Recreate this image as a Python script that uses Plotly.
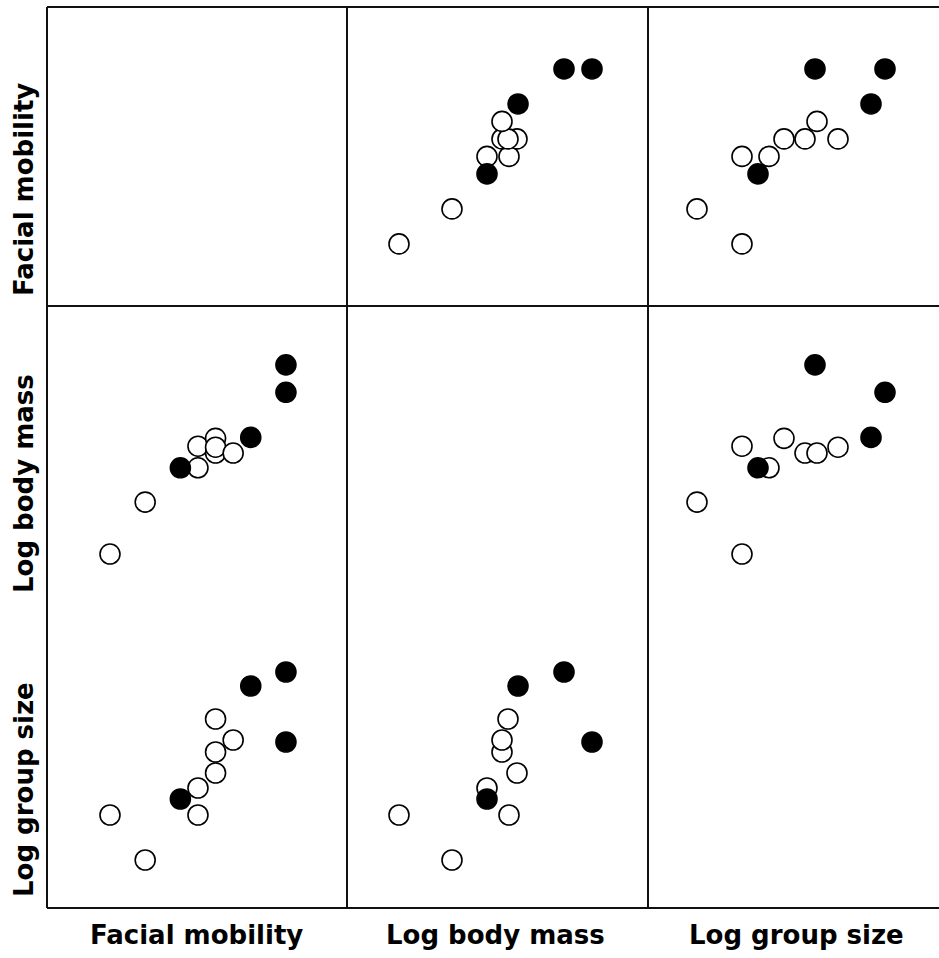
import plotly.graph_objects as go

# Data (one entry per species)
facial_mobility = [0, 2, 4, 5, 5, 6, 6, 6, 7, 8, 10, 10]
log_body_mass = [2.97, 3.50, 3.85, 3.85, 4.07, 4.15, 4.00, 4.06, 4.00, 4.16, 4.62, 4.90]
log_group_size = [0.95, 0.50, 1.11, 1.22, 0.95, 1.37, 1.58, 1.91, 1.70, 2.24, 2.38, 1.68]
filled = [False, False, True, False, False, False, False, False, False, True, True, True]

var_names = ["Facial mobility", "Log body mass", "Log group size"]
variables = [facial_mobility, log_body_mass, log_group_size]

W, H = 939, 958
L, T, B = 47, 7, 50
plot_w = W - L
plot_h = H - T - B

col_px = [(47, 347), (347, 648), (648, 939)]
row_px = [(7, 306), (306, 607), (607, 908)]

x_ranges = [[-3.58, 13.47], [2.45, 5.46], [0.01, 2.92]]
y_ranges = [[-3.55, 13.54], [2.43, 5.50], [0.02, 3.03]]

def xdom(c):
    a, b = col_px[c]
    return [(a - L) / plot_w, (b - L) / plot_w]

def ydom(r):
    a, b = row_px[r]
    return [(T + plot_h - b) / plot_h, (T + plot_h - a) / plot_h]

fig = go.Figure()

for r in range(3):
    for c in range(3):
        k = r * 3 + c + 1
        suffix = "" if k == 1 else str(k)
        fig.layout["xaxis" + suffix] = dict(domain=xdom(c), range=x_ranges[c], visible=False,
                                            anchor="y" + suffix, fixedrange=True)
        fig.layout["yaxis" + suffix] = dict(domain=ydom(r), range=y_ranges[r], visible=False,
                                            anchor="x" + suffix, fixedrange=True)
        if r == c:
            continue
        for is_filled in (False, True):
            xs_ = [v for v, f in zip(variables[c], filled) if f == is_filled]
            ys_ = [v for v, f in zip(variables[r], filled) if f == is_filled]
            fig.add_trace(go.Scatter(
                x=xs_, y=ys_, mode="markers",
                xaxis="x" + suffix, yaxis="y" + suffix,
                marker=dict(size=20, color="black" if is_filled else "white",
                            line=dict(color="black", width=1.6)),
                showlegend=False, hoverinfo="skip"))

# grid borders
shapes = []
line = dict(color="#111111", width=2)
xs = [0, xdom(0)[1], xdom(1)[1]]
for xv in xs:
    shapes.append(dict(type="line", xref="paper", yref="paper", x0=xv, x1=xv, y0=0, y1=1, line=line))
ys = [0, ydom(1)[1], ydom(0)[0], 1]
for yv in ys:
    shapes.append(dict(type="line", xref="paper", yref="paper", x0=0, x1=1.01, y0=yv, y1=yv, line=line))

annotations = []
font = dict(family="DejaVu Sans", size=26, color="black")
bottom_centers = [196, 496, 796]
for name, cx in zip(var_names, bottom_centers):
    annotations.append(dict(text="<b>%s</b>" % name, xref="paper", yref="paper",
                            x=(cx - L) / plot_w, y=(T + plot_h - 935) / plot_h,
                            showarrow=False, font=font, xanchor="center", yanchor="middle"))
left_centers = [190, 484, 790]
for name, cy in zip(var_names, left_centers):
    annotations.append(dict(text="<b>%s</b>" % name, xref="paper", yref="paper",
                            x=(24 - L) / plot_w, y=(T + plot_h - cy) / plot_h,
                            showarrow=False, font=font, textangle=-90,
                            xanchor="center", yanchor="middle"))

fig.update_layout(width=W, height=H, margin=dict(l=L, r=0, t=T, b=B, pad=0),
                  plot_bgcolor="white", paper_bgcolor="white",
                  shapes=shapes, annotations=annotations)

fig.write_html("out.html", config={"displayModeBar": False},
               post_script="document.body.style.margin='0';document.body.style.overflow='hidden';")
